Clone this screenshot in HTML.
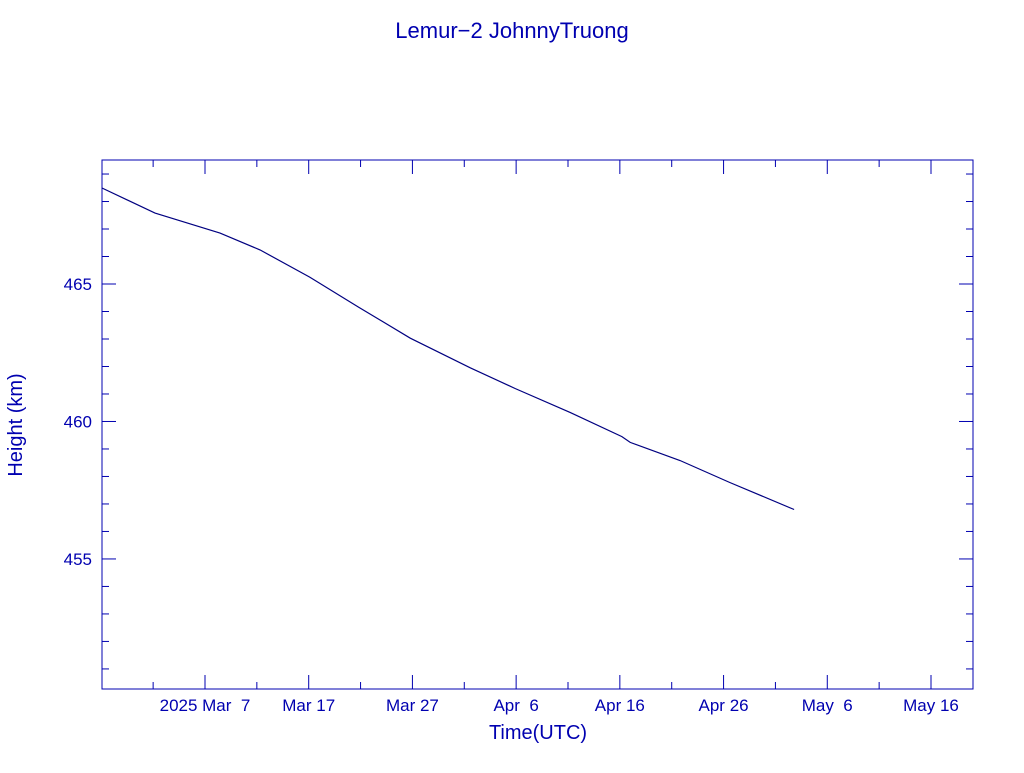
<!DOCTYPE html>
<html><head><meta charset="utf-8"><style>
body{margin:0;background:#fff;width:1024px;height:768px;overflow:hidden}
svg text{font-family:"Liberation Sans",sans-serif;fill:#0000b0}
</style></head><body>
<svg width="1024" height="768" id="c">
<text x="512" y="38" text-anchor="middle" font-size="22" font-family="Liberation Serif">Lemur−2 JohnnyTruong</text>
<rect x="102" y="160" width="871" height="529" fill="none" stroke="#0000b0" stroke-width="1"/>
<text x="538" y="739" text-anchor="middle" font-size="20" font-family="Liberation Serif">Time(UTC)</text>
<text transform="translate(22,425) rotate(-90)" text-anchor="middle" font-size="20" font-family="Liberation Serif">Height (km)</text>
<g id="ticks"></g>
<path id="line" fill="none" stroke="#000080" stroke-width="1.2"/>
</svg>
<script>
// days relative to 2025 Mar 7
const days=[-9.93,-4.82,1.45,5.3,10.1,14.8,19.8,25.6,29.9,35.2,40.2,41,45.8,50.6,56.8];
const heights=[468.49,467.58,466.85,466.24,465.25,464.16,463.03,461.95,461.2,460.33,459.45,459.24,458.58,457.78,456.8];
const yTickValues=[455,460,465];
const xTickDays=[0,10,20,30,40,50,60,70];
const xTickLabels=["2025 Mar  7","Mar 17","Mar 27","Apr  6","Apr 16","Apr 26","May  6","May 16"];
const X0=102,X1=973,Y0=160,Y1=689;
const dMin=-9.93,dMax=74.05,hMin=450.27,hMax=469.51;
const xs=d=>X0+(d-dMin)/(dMax-dMin)*(X1-X0);
const ys=h=>Y1-(h-hMin)/(hMax-hMin)*(Y1-Y0);
const NS="http://www.w3.org/2000/svg";
const g=document.getElementById('ticks');
function ln(x1,y1,x2,y2){const l=document.createElementNS(NS,'line');l.setAttribute('x1',x1);l.setAttribute('y1',y1);l.setAttribute('x2',x2);l.setAttribute('y2',y2);l.setAttribute('stroke','#0000b0');


g.appendChild(l);}
for(let h=451;h<=469;h++){const y=ys(h);const L=(h%5==0)?14:7;ln(X0,y,X0+L,y);ln(X1,y,X1-L,y);}
yTickValues.forEach(v=>{const t=document.createElementNS(NS,'text');t.setAttribute('x',92);t.setAttribute('y',ys(v)+6);t.setAttribute('text-anchor','end');t.setAttribute('font-size','17');t.setAttribute('font-family','Liberation Mono');t.textContent=v;


g.appendChild(t);});
for(let d=-5;d<=70;d+=5){const x=xs(d);const L=(d%10==0)?14:7;ln(x,Y1,x,Y1-L);ln(x,Y0,x,Y0+L);}
xTickDays.forEach((d,i)=>{const t=document.createElementNS(NS,'text');t.setAttribute('x',xs(d));t.setAttribute('y',711);t.setAttribute('text-anchor','middle');t.setAttribute('font-size','17');t.setAttribute('font-family','Liberation Mono');t.setAttribute('xml:space','preserve');t.style.whiteSpace='pre';t.textContent=xTickLabels[i];


g.appendChild(t);});
document.getElementById('line').setAttribute('d',days.map((d,i)=>(i?'L':'M')+xs(d).toFixed(1)+','+ys(heights[i]).toFixed(1)).join(''));
</script>
</body></html>
